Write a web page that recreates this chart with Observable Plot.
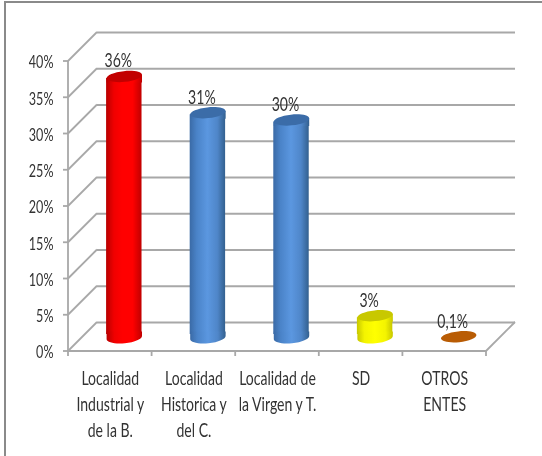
<!DOCTYPE html>
<html>
<head>
<meta charset="utf-8">
<script src="https://cdn.jsdelivr.net/npm/d3@7"></script>
<script src="https://cdn.jsdelivr.net/npm/@observablehq/plot@0.6"></script>
<style>
html,body{margin:0;padding:0;background:#fff;width:542px;height:456px;overflow:hidden}
#frame{position:absolute;left:4px;top:1px;width:538px;height:455px;border-left:2px solid #8a8a8a;border-top:2px solid #8a8a8a;box-sizing:border-box;pointer-events:none}
#chart{position:absolute;left:0;top:0}
#chart svg{display:block;background:transparent;filter:blur(.35px)}
</style>
</head>
<body>
<div id="chart"></div>
<div id="frame"></div>
<script>
const categories = ["Localidad\nIndustrial y\nde la B.", "Localidad\nHistorica y\ndel C.", "Localidad de\nla Virgen y T.", "SD", "OTROS\nENTES"];
const values = [36, 31, 30, 3, 0.1];
const valueLabels = ["36%", "31%", "30%", "3%", "0,1%"];
const yTicks = [0, 5, 10, 15, 20, 25, 30, 35, 40];
const sideFills = ["url(#g-red)", "url(#g-blue)", "url(#g-blue)", "url(#g-yellow)", "url(#g-brown)"];
const capFills = ["#c20000", "#3b6ca8", "#3b6ca8", "#c8c800", "#b95c04"];

const rows = categories.map((c, i) => ({c, v: values[i], label: valueLabels[i], side: sideFills[i], cap: capFills[i]}));

const GRID = "#a8a8a8", TEXT = "#333333", FONT = "Lato,'Open Sans',sans-serif";
const DEPTH = 29, MIDX = 14, MIDY = 14, A = 17.8, TILT = -0.1, K = 0.5523;
const rot = (x, y) => [x * Math.cos(TILT) - y * Math.sin(TILT), x * Math.sin(TILT) + y * Math.cos(TILT)];

// tilted ellipse used for the top of a cylinder
const ellipseSym = {draw(ctx) {
  const a = A, b = 5.4, p = rot;
  ctx.moveTo(...p(-a, 0));
  ctx.bezierCurveTo(...p(-a, -K * b), ...p(-K * a, -b), ...p(0, -b));
  ctx.bezierCurveTo(...p(K * a, -b), ...p(a, -K * b), ...p(a, 0));
  ctx.bezierCurveTo(...p(a, K * b), ...p(K * a, b), ...p(0, b));
  ctx.bezierCurveTo(...p(-K * a, b), ...p(-a, K * b), ...p(-a, 0));
  ctx.closePath();
}};
// short collar joining the tilted cap to the straight body
const neckSym = {draw(ctx) {
  const [lx, ly] = rot(-A, 0), [rx, ry] = rot(A, 0);
  ctx.moveTo(lx, ly);
  ctx.lineTo(rx, ry);
  ctx.lineTo(rx, 6);
  ctx.lineTo(lx, 6);
  ctx.closePath();
}};
// lower half of the same ellipse, with a short collar joining it to the body
const baseSym = {draw(ctx) {
  const a = A, b = 5.8, p = rot;
  const [lx, ly] = p(-a, 0), [rx, ry] = p(a, 0);
  ctx.moveTo(lx, ly);
  ctx.lineTo(lx, -6);
  ctx.lineTo(rx, -6);
  ctx.lineTo(rx, ry);
  ctx.bezierCurveTo(...p(a, K * b), ...p(K * a, b), ...p(0, b));
  ctx.bezierCurveTo(...p(-K * a, b), ...p(-a, K * b), ...p(-a, 0));
  ctx.closePath();
}};

const defs = () => {
  const ns = "http://www.w3.org/2000/svg";
  const d = document.createElementNS(ns, "defs");
  const stops = {
    "g-red": [[0, "#b80000"], [.22, "#f00000"], [.45, "#ff0000"], [.75, "#ff0000"], [1, "#c00000"]],
    "g-blue": [[0, "#3a6aa6"], [.2, "#4a83c8"], [.5, "#5b97e0"], [.78, "#4f86c9"], [1, "#33608f"]],
    "g-yellow": [[0, "#c8c800"], [.2, "#f4f400"], [.5, "#ffff00"], [.8, "#f4f400"], [1, "#c8c800"]]
  };
  for (const id in stops) {
    const g = document.createElementNS(ns, "linearGradient");
    g.setAttribute("id", id);
    for (const [o, c] of stops[id]) {
      const s = document.createElementNS(ns, "stop");
      s.setAttribute("offset", o);
      s.setAttribute("stop-color", c);
      g.appendChild(s);
    }
    d.appendChild(g);
  }
  return d;
};

// the depth lines of the 3-D box, located through the chart's own scales
const box = (index, scales, vals, dim) => {
  const ns = "http://www.w3.org/2000/svg";
  const g = document.createElementNS(ns, "g");
  const line = (x1, y1, x2, y2) => {
    const l = document.createElementNS(ns, "line");
    for (const [k, v] of Object.entries({x1, y1, x2, y2})) l.setAttribute(k, v);
    l.setAttribute("stroke", GRID);
    l.setAttribute("stroke-width", 1.8);
    g.appendChild(l);
  };
  const x0 = dim.marginLeft, xEnd = dim.width - dim.marginRight, y0 = scales.y(0), yTop = scales.y(40);
  line(x0, yTop, x0, y0 + 1);
  for (const t of yTicks) {
    line(x0, scales.y(t), x0 + DEPTH, scales.y(t) - DEPTH);
    line(x0 - 5, scales.y(t), x0, scales.y(t));
  }
  line(x0, y0, xEnd, y0);
  line(xEnd, y0, xEnd + DEPTH, y0 - DEPTH);
  for (const c of categories) line(scales.x(c), y0, scales.x(c), y0 + 5);
  line(xEnd, y0, xEnd, y0 + 5);
  return g;
};

const plot = Plot.plot({
  width: 542, height: 456,
  marginLeft: 68, marginRight: 56, marginTop: 61, marginBottom: 105,
  style: {fontFamily: FONT, background: "transparent"},
  x: {domain: categories, padding: 0, round: false, label: null},
  y: {domain: [0, 40], label: null},
  marks: [
    defs,
    Plot.ruleY(yTicks, {dx: DEPTH, dy: -DEPTH, stroke: GRID, strokeWidth: 1.8, strokeOpacity: 1}),
    box,
    Plot.axisY({ticks: yTicks, tickSize: 0, tickPadding: 15, dy: 1, tickFormat: d => d + "%", fill: TEXT, fontSize: 18, label: null}),
    Plot.axisX({tickSize: 0, tickPadding: 15.5, lineHeight: 1.4, fill: TEXT, fontSize: 18.5, label: null}),
    ...rows.flatMap(r => r.v < 1
      ? [Plot.dot([r], {x: "c", y: "v", symbol: ellipseSym, fill: r.cap, stroke: "none", dx: MIDX, dy: -MIDY})]
      : [
        Plot.barY([r], {x: "c", y: "v", fill: r.side, insetLeft: 24.09, insetRight: 24.09, insetBottom: 3, insetTop: 2, dx: MIDX, dy: -MIDY}),
        Plot.dot([r], {x: "c", y: () => 0, symbol: baseSym, fill: r.side, stroke: "none", dx: MIDX, dy: -MIDY}),
        Plot.dot([r], {x: "c", y: "v", symbol: neckSym, fill: r.side, stroke: "none", dx: MIDX, dy: -MIDY}),
        Plot.dot([r], {x: "c", y: "v", symbol: ellipseSym, fill: r.cap, stroke: "none", dx: MIDX, dy: -MIDY})
      ]),
    Plot.text(rows, {x: "c", y: "v", text: "label", dx: 8, dy: -29, fill: TEXT, fontSize: 18.5})
  ]
});
// the reference's lettering is condensed: narrow each label horizontally around its anchor
plot.querySelectorAll("text").forEach(t => {
  const owner = t.closest("g[aria-label]");
  const name = owner ? owner.getAttribute("aria-label") : "";
  const sx = name.startsWith("y-axis") ? .7 : .76;
  t.setAttribute("transform", (t.getAttribute("transform") || "") + ` scale(${sx},1)`);
});
document.getElementById("chart").appendChild(plot);
</script>
</body>
</html>
